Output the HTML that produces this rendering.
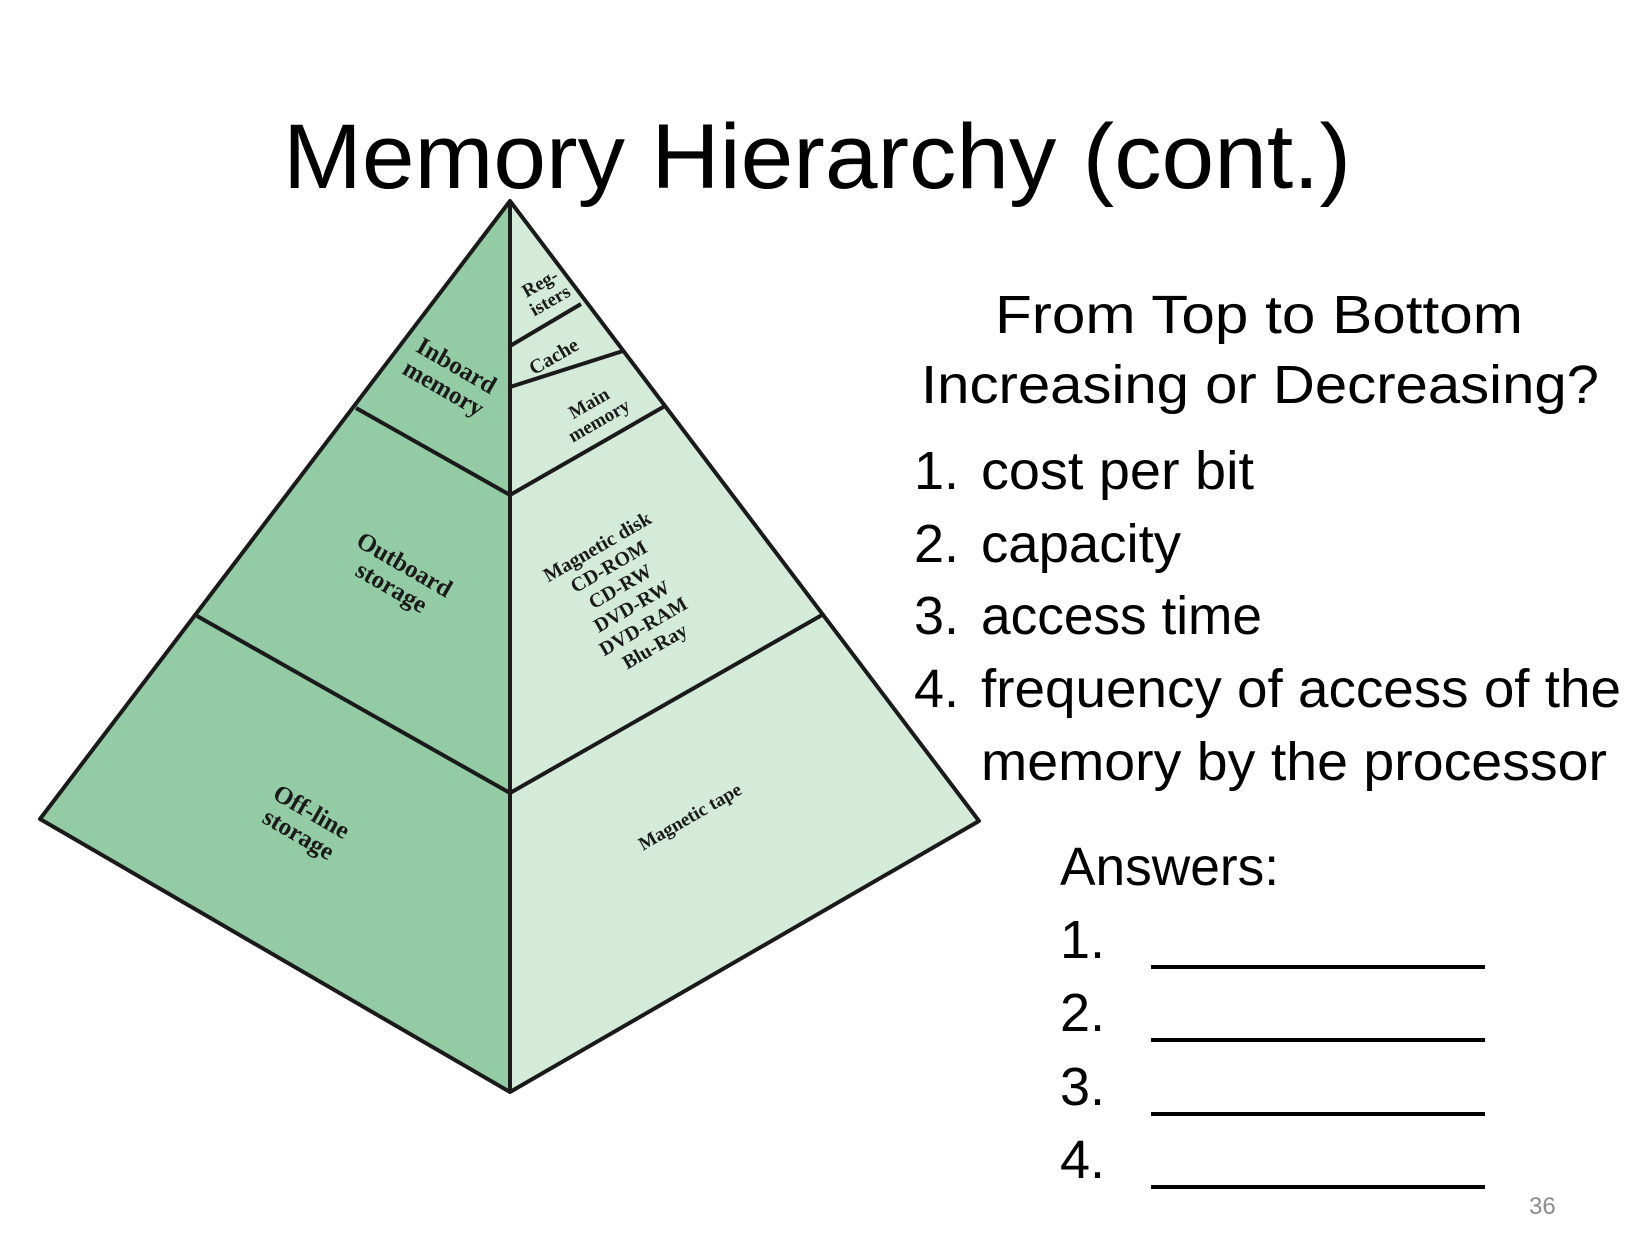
<!DOCTYPE html>
<html><head><meta charset="utf-8"><style>
html,body{margin:0;padding:0;background:#fff;}
svg{display:block;}
.s{font-family:"Liberation Sans",sans-serif;fill:#000;}
.p{font-family:"Liberation Serif",serif;font-weight:bold;fill:#1a1a1a;}
</style></head><body>
<svg width="1633" height="1246" viewBox="0 0 1633 1246" xmlns="http://www.w3.org/2000/svg">
<rect width="1633" height="1246" fill="#fff"/>
<text class="s" x="283" y="188" font-size="92" textLength="1068" lengthAdjust="spacingAndGlyphs">Memory Hierarchy (cont.)</text>

<polygon points="510,201 40,819 510,1092" fill="#93cba4"/>
<polygon points="510,201 979,821 510,1092" fill="#d4ebd9"/>
<g stroke="#1a1a1a" stroke-width="4" fill="none" stroke-linejoin="round">
<polygon points="510,201 979,821 510,1092 40,819"/>
<line x1="510" y1="201" x2="510" y2="1092"/>
<line x1="356" y1="408" x2="510" y2="495"/>
<line x1="197" y1="616" x2="510" y2="793"/>
<line x1="510" y1="346" x2="581" y2="304"/>
<line x1="510" y1="387" x2="623" y2="351"/>
<line x1="510" y1="495" x2="665" y2="406"/>
<line x1="510" y1="793" x2="822" y2="615"/>
</g>
<g class="p" text-anchor="middle">
<text transform="translate(450,377) rotate(30)" font-size="25"><tspan x="0" y="-5">Inboard</tspan><tspan x="0" y="21">memory</tspan></text>
<text transform="translate(398,576) rotate(30)" font-size="25"><tspan x="0" y="-5">Outboard</tspan><tspan x="0" y="21">storage</tspan></text>
<text transform="translate(305,823) rotate(30)" font-size="25"><tspan x="0" y="-5">Off-line</tspan><tspan x="0" y="21">storage</tspan></text>
<text transform="translate(545,292) rotate(-30)" font-size="19"><tspan x="0" y="-4">Reg-</tspan><tspan x="0" y="16">isters</tspan></text>
<text transform="translate(557,362) rotate(-30)" font-size="20"><tspan x="0" y="0">Cache</tspan></text>
<text transform="translate(594,412) rotate(-30)" font-size="19"><tspan x="0" y="-4">Main</tspan><tspan x="0" y="16">memory</tspan></text>
<text transform="translate(628,600) rotate(-30)" font-size="20"><tspan x="0" y="-55">Magnetic disk</tspan><tspan x="0" y="-32">CD-ROM</tspan><tspan x="0" y="-9">CD-RW</tspan><tspan x="0" y="14">DVD-RW</tspan><tspan x="0" y="37">DVD-RAM</tspan><tspan x="0" y="60">Blu-Ray</tspan></text>
<text transform="translate(693,822) rotate(-30)" font-size="19">Magnetic tape</text>
</g>

<g class="s" font-size="54">
<text x="995" y="333" textLength="528" lengthAdjust="spacingAndGlyphs">From Top to Bottom</text>
<text x="921" y="403" textLength="678" lengthAdjust="spacingAndGlyphs">Increasing or Decreasing?</text>
<text x="914" y="489">1.</text><text x="981" y="489" textLength="273" lengthAdjust="spacingAndGlyphs">cost per bit</text>
<text x="914" y="562">2.</text><text x="981" y="562" textLength="200" lengthAdjust="spacingAndGlyphs">capacity</text>
<text x="914" y="634">3.</text><text x="981" y="634" textLength="281" lengthAdjust="spacingAndGlyphs">access time</text>
<text x="914" y="707">4.</text><text x="981" y="707" textLength="640" lengthAdjust="spacingAndGlyphs">frequency of access of the</text>
<text x="981" y="780" textLength="626" lengthAdjust="spacingAndGlyphs">memory by the processor</text>
<text x="1060" y="885" textLength="219" lengthAdjust="spacingAndGlyphs">Answers:</text>
<text x="1060" y="958">1.</text>
<text x="1060" y="1031">2.</text>
<text x="1060" y="1105">3.</text>
<text x="1060" y="1178">4.</text>
</g>
<g stroke="#000" stroke-width="4">
<line x1="1151" y1="967" x2="1485" y2="967"/>
<line x1="1151" y1="1040" x2="1485" y2="1040"/>
<line x1="1151" y1="1114" x2="1485" y2="1114"/>
<line x1="1151" y1="1187" x2="1485" y2="1187"/>
</g>
<text x="1529" y="1214" font-family="Liberation Sans,sans-serif" font-size="24" fill="#8c8c8c">36</text>
</svg>
</body></html>
